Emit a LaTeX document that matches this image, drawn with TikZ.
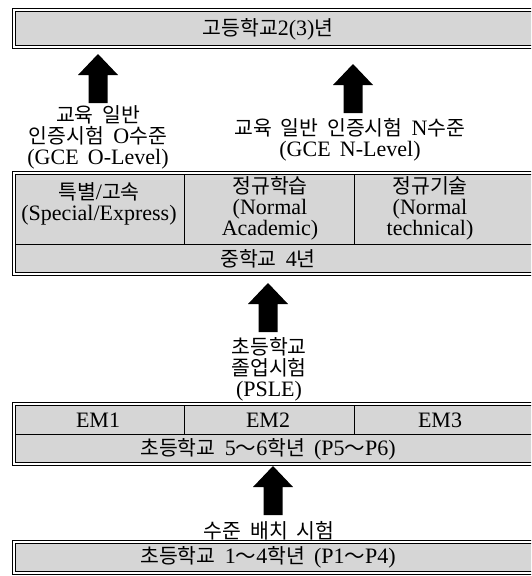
\documentclass[tikz,border=0pt]{standalone}
\usepackage{fontspec}
\setmainfont{Liberation Serif}
\newfontfamily\kr{Noto Sans CJK KR}[Scale=0.93]
\newcommand\ksp{\hspace{0.42em}}
\newcommand\wave{{\kr ～}}
\definecolor{boxgray}{RGB}{214,214,214}
\begin{document}
\begin{tikzpicture}[x=1pt,y=-1pt,
  outerline/.style={draw=black, line width=0.9pt},
  innerbox/.style={draw=black, line width=1.1pt, fill=boxgray},
  txt/.style={font=\fontsize{22}{21}\selectfont, align=center, inner sep=0pt},
  divider/.style={line width=0.7pt},
  blockarrow/.pic={\fill (-9.5,0) -- (-9.5,-28) -- (-20,-28) -- (0,-49) -- (20,-28) -- (9.5,-28) -- (9.5,0) -- cycle;}
]
\useasboundingbox (0,0) rectangle (531,576);
\clip (0,0) rectangle (531,576);

% boxes (double border: thin outer line, white gap, inner line, gray fill)
\draw[outerline] (12.5,8.5) rectangle (560,48.5);
\draw[innerbox] (15.5,11.5) rectangle (560,45.5);

\draw[outerline] (12.5,171.5) rectangle (560,275.5);
\draw[innerbox] (15.5,174.5) rectangle (560,272.5);

\draw[outerline] (12.5,402.5) rectangle (560,465.5);
\draw[innerbox] (15.5,405.5) rectangle (560,462.5);

\draw[outerline] (12.5,540.5) rectangle (560,574.5);
\draw[innerbox] (15.5,543.5) rectangle (560,571.5);

% dividers
\draw[divider] (15.5,244.5) -- (560,244.5);
\draw[divider] (184.5,174.5) -- (184.5,244.5);
\draw[divider] (354.5,174.5) -- (354.5,244.5);
\draw[divider] (15.5,434.5) -- (560,434.5);
\draw[divider] (184.5,405.5) -- (184.5,434.5);
\draw[divider] (354.5,405.5) -- (354.5,434.5);

% texts
\node[txt] (ths) at (268,29) {{\kr 고등학교}2(3){\kr 년}};
\node[txt] (to) at (98,137) {{\kr 교육\ksp 일반}\\{\kr 인증시험}\ksp O{\kr 수준}\\(GCE\ksp O-Level)};
\node[txt] (tn) at (350,139.5) {{\kr 교육\ksp 일반\ksp 인증시험}\ksp N{\kr 수준}\\(GCE\ksp N-Level)};
\node[txt] (c1) at (99,204) {{\kr 특별}/{\kr 고속}\\(Special/Express)};
\node[txt] (c2) at (270,208) {{\kr 정규학습}\\(Normal\\Academic)};
\node[txt] (c3) at (430,208) {{\kr 정규기술}\\(Normal\\technical)};
\node[txt] (tsec) at (268,259) {{\kr 중학교}\ksp 4{\kr 년}};
\node[txt] (tpsle) at (269,369) {{\kr 초등학교}\\{\kr 졸업시험}\\(PSLE)};
\node[txt] (em1) at (98,420) {EM1};
\node[txt] (em2) at (268,420) {EM2};
\node[txt] (em3) at (440,420) {EM3};
\node[txt] (tpri) at (268,449) {{\kr 초등학교}\ksp 5\wave 6{\kr 학년}\ksp (P5\wave P6)};
\node[txt] (tplace) at (269,531) {{\kr 수준\ksp 배치\ksp 시험}};
\node[txt] (tlow) at (268,557.5) {{\kr 초등학교}\ksp 1\wave 4{\kr 학년}\ksp (P1\wave P4)};

% block arrows
\pic at (98,103) {blockarrow};
\pic at (353,113) {blockarrow};
\pic at (268,332) {blockarrow};
\pic at (273,515) {blockarrow};
\end{tikzpicture}
\end{document}
